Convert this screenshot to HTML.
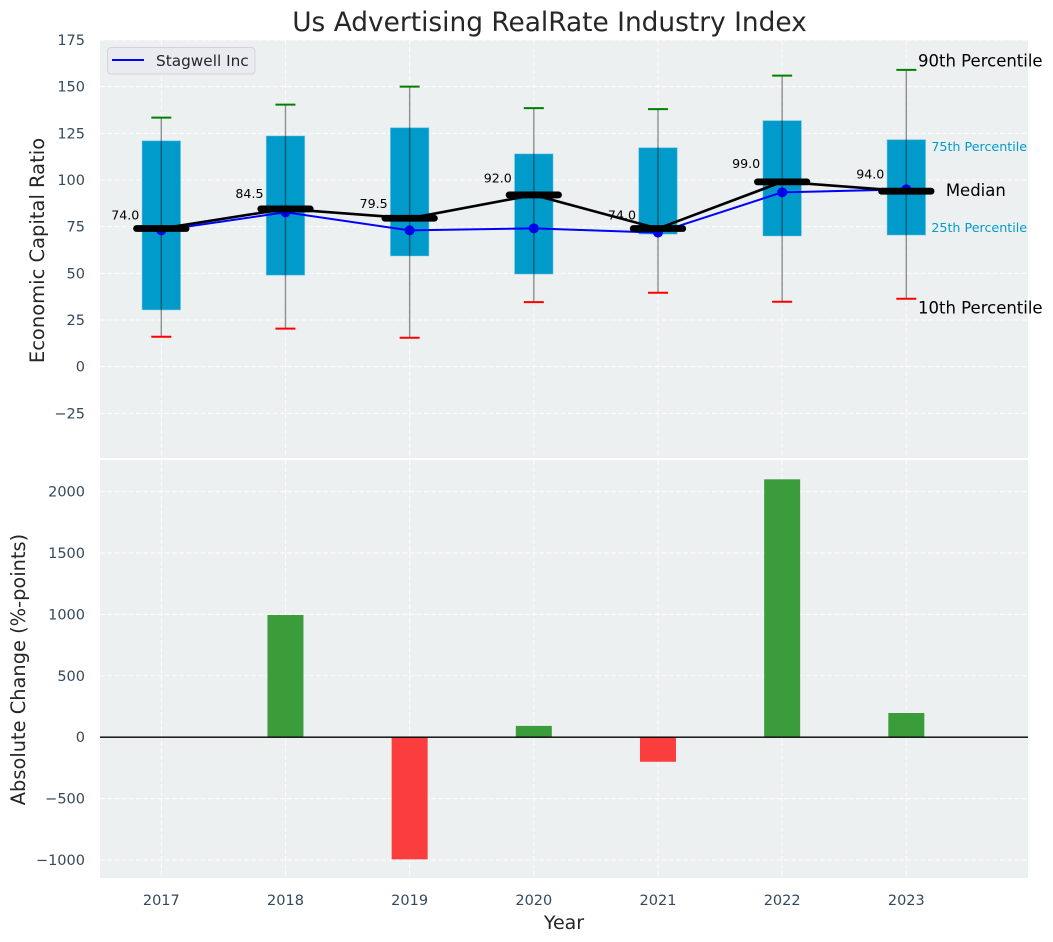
<!DOCTYPE html>
<html lang="en">
<head>
<meta charset="utf-8">
<title>Us Advertising RealRate Industry Index</title>
<style>
  html, body { margin: 0; padding: 0; background: #fff; }
  body { width: 1053px; height: 942px; overflow: hidden; }
  svg { display: block; font-family: "DejaVu Sans", "Liberation Sans", sans-serif; }
</style>
</head>
<body>
<svg id="chart" xmlns="http://www.w3.org/2000/svg" width="1053" height="942" viewBox="0 0 1053 942">
  <rect x="100" y="40" width="928" height="418" fill="#ecf0f1"/>
  <rect x="100" y="460" width="928" height="418" fill="#ecf0f1"/>
  <g id="grid"></g>
  <g id="top-marks"></g>
  <g id="bottom-marks"></g>
  <g id="ticks"></g>
  <text x="549.5" y="31" font-size="26.4" fill="#262626" text-anchor="middle">Us Advertising RealRate Industry Index</text>
  <text transform="translate(44,250.5) rotate(-90)" font-size="19.5" fill="#262626" text-anchor="middle">Economic Capital Ratio</text>
  <text transform="translate(25,669.5) rotate(-90)" font-size="19.4" fill="#262626" text-anchor="middle">Absolute Change (%-points)</text>
  <text x="564" y="929" font-size="19" fill="#262626" text-anchor="middle">Year</text>
  <g>
    <rect x="107.5" y="47.5" width="147.5" height="26.5" rx="3.5" fill="#e9ebf1" stroke="#d2d4da" stroke-width="1"/>
    <line x1="112" y1="60" x2="144" y2="60" stroke="#0000ff" stroke-width="2"/>
    <text x="156" y="66" font-size="15.3" fill="#262626">Stagwell Inc</text>
  </g>
</svg>
<script>
const years = [2017, 2018, 2019, 2020, 2021, 2022, 2023];
const p90 = [133.4, 140.4, 150, 138.5, 138, 155.9, 159];
const q3 = [121, 123.6, 128, 114, 117.3, 131.8, 121.6];
const medians = [74, 84.5, 79.5, 92, 74, 99, 94];
const q1 = [30.4, 49, 59.3, 49.6, 71, 70, 70.5];
const p10 = [16, 20.4, 15.5, 34.6, 39.6, 34.8, 36.4];
const stagwell = [73, 82.7, 73, 74.1, 71.8, 93.4, 95];
const changes = [0, 995, -995, 92, -200, 2100, 197];
const topTicks = [175, 150, 125, 100, 75, 50, 25, 0, -25];
const bottomTicks = [2000, 1500, 1000, 500, 0, -500, -1000];

const NS = 'http://www.w3.org/2000/svg';
const xScale = v => 161.3 + (v - 2017) * 124.17;
const yTop = v => 366.67 - v * 1.8667;
const yBottom = v => 737.2 - v * 0.1228;
const fmtTick = v => (v < 0 ? '\u2212' + Math.abs(v) : String(v));

function make(parent, tag, props, text) {
  const el = document.createElementNS(NS, tag);
  for (const k in props) el.setAttribute(k, props[k]);
  if (text !== undefined) el.textContent = text;
  parent.appendChild(el);
  return el;
}

const gridG = document.getElementById('grid');
const topG = document.getElementById('top-marks');
const bottomG = document.getElementById('bottom-marks');
const ticksG = document.getElementById('ticks');
const gridStyle = { stroke: '#ffffff', 'stroke-width': 1, 'stroke-dasharray': '5,2.2', 'stroke-opacity': 0.85 };
const boxW = 38.5, capW = 20, medW = 49.5, barW = 36;

topTicks.forEach(t => {
  const line = make(gridG, 'line', Object.assign({ x1: 100, x2: 1028, y1: yTop(t), y2: yTop(t) }, gridStyle));
  
  
  const label = make(ticksG, 'text', { x: 85, y: yTop(t) + 5, 'font-size': 14.5, fill: '#34495e', 'text-anchor': 'end' }, fmtTick(t));
  
  
});
bottomTicks.forEach(t => {
  const line = make(gridG, 'line', Object.assign({ x1: 100, x2: 1028, y1: yBottom(t), y2: yBottom(t) }, gridStyle));
  
  
  const label = make(ticksG, 'text', { x: 85, y: yBottom(t) + 5, 'font-size': 14.5, fill: '#34495e', 'text-anchor': 'end' }, fmtTick(t));
  
  
});
years.forEach(y => {
  const x = xScale(y);
  const a = make(gridG, 'line', Object.assign({ x1: x, x2: x, y1: 40, y2: 458 }, gridStyle));
  
  
  const b = make(gridG, 'line', Object.assign({ x1: x, x2: x, y1: 460, y2: 878 }, gridStyle));
  
  
  const label = make(ticksG, 'text', { x: x, y: 905, 'font-size': 14.5, fill: '#34495e', 'text-anchor': 'middle' }, String(y));
  
  
});

// Boxes
years.forEach((y, i) => {
  const box = make(topG, 'rect', {
    x: xScale(y) - boxW / 2, y: yTop(q3[i]), width: boxW, height: yTop(q1[i]) - yTop(q3[i]),
    fill: '#009bcb', stroke: 'rgba(120,200,230,0.6)', 'stroke-width': 0.8
  });
  
  
});

// Stagwell line and markers
const stagLine = make(topG, 'polyline', {
  points: years.map((y, i) => xScale(y) + ',' + yTop(stagwell[i])).join(' '),
  fill: 'none', stroke: '#0000ff', 'stroke-width': 2
});


years.forEach((y, i) => {
  const dot = make(topG, 'circle', { cx: xScale(y), cy: yTop(stagwell[i]), r: 5, fill: '#0000ff' });
  
  
});

// Median connection and thick median bars
const medLine = make(topG, 'polyline', {
  points: years.map((y, i) => xScale(y) + ',' + yTop(medians[i])).join(' '),
  fill: 'none', stroke: '#000000', 'stroke-width': 2.6
});


years.forEach((y, i) => {
  const x = xScale(y), m = yTop(medians[i]);
  const bar = make(topG, 'line', {
    x1: x - medW / 2, x2: x + medW / 2, y1: m, y2: m,
    stroke: '#000000', 'stroke-width': 6.8, 'stroke-linecap': 'round'
  });
  
  
  const val = make(topG, 'text', {
    x: x - 22, y: yTop(medians[i] * 1.1) + 4.6, 'font-size': 12.6, fill: '#000000', 'text-anchor': 'end'
  }, medians[i].toFixed(1));
  
  
});

// Whiskers and caps
years.forEach((y, i) => {
  const x = xScale(y);
  const whisker = make(topG, 'line', {
    x1: x, x2: x, y1: yTop(p90[i]), y2: yTop(p10[i]),
    stroke: '#000000', 'stroke-opacity': 0.42, 'stroke-width': 1.4
  });
  
  
  const hi = make(topG, 'line', {
    x1: x - capW / 2, x2: x + capW / 2, y1: yTop(p90[i]), y2: yTop(p90[i]),
    stroke: '#008000', 'stroke-width': 2
  });
  
  
  const lo = make(topG, 'line', {
    x1: x - capW / 2, x2: x + capW / 2, y1: yTop(p10[i]), y2: yTop(p10[i]),
    stroke: '#ff0000', 'stroke-width': 2
  });
  
  
});

// Percentile annotations follow the last year's values
const last = years.length - 1;
const lastX = xScale(years[last]);
const p90Label = make(topG, 'text', { x: lastX + 11.7, y: yTop(p90[last]) - 3.3, 'font-size': 16.5, fill: '#000000' }, '90th Percentile');


const p10Label = make(topG, 'text', { x: lastX + 11.7, y: yTop(p10[last]) + 15, 'font-size': 16.5, fill: '#000000' }, '10th Percentile');


const q3Label = make(topG, 'text', { x: lastX + 25, y: yTop(q3[last]) + 11.5, 'font-size': 12.7, fill: '#009bcb' }, '75th Percentile');


const q1Label = make(topG, 'text', { x: lastX + 25, y: yTop(q1[last]) - 3, 'font-size': 12.7, fill: '#009bcb' }, '25th Percentile');


const medLabel = make(topG, 'text', { x: lastX + 39.5, y: yTop(medians[last]) + 5, 'font-size': 16.5, fill: '#000000' }, 'Median');



// Change bars
years.forEach((y, i) => {
  const v = changes[i];
  const bar = make(bottomG, 'rect', {
    x: xScale(y) - barW / 2, y: Math.min(yBottom(v), yBottom(0)), width: barW,
    height: Math.abs(yBottom(v) - yBottom(0)),
    fill: v >= 0 ? '#3b9c3c' : '#fa3e3e'
  });
  
  
});
const zero = make(bottomG, 'line', { x1: 100, x2: 1028, y1: yBottom(0), y2: yBottom(0), stroke: '#000000', 'stroke-width': 1.3 });


</script>
</body>
</html>
